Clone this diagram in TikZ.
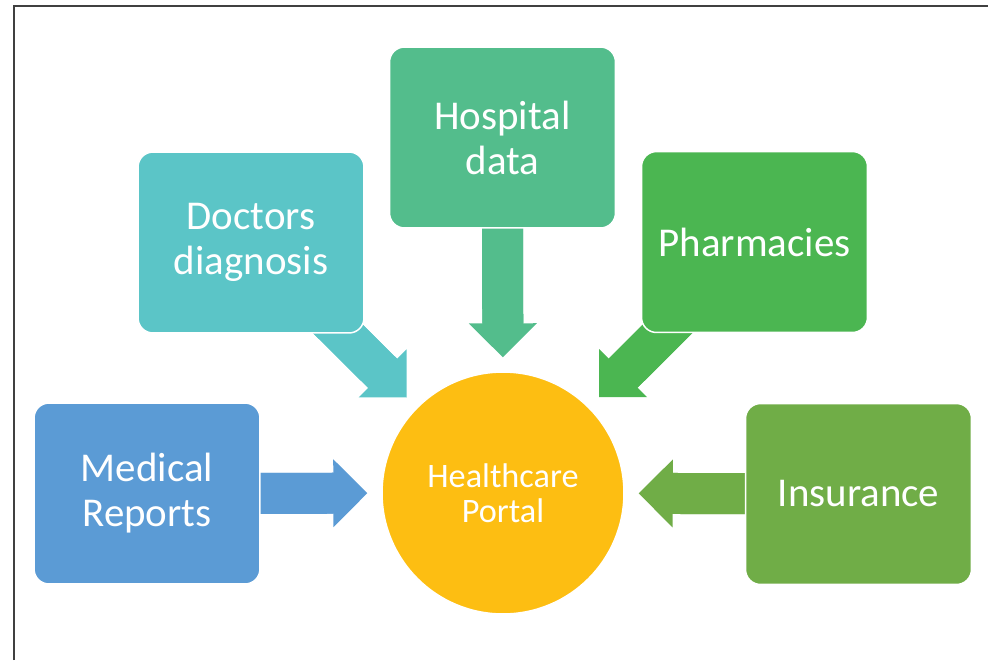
\documentclass[tikz,border=0pt]{standalone}
\usepackage{fontspec}
\setmainfont{Carlito}
\usetikzlibrary{arrows.meta, backgrounds}

\definecolor{medblue}{HTML}{5B9BD5}
\definecolor{docteal}{HTML}{5BC5C7}
\definecolor{hospgreen}{HTML}{53BD8C}
\definecolor{pharmgreen}{HTML}{4BB651}
\definecolor{insgreen}{HTML}{70AD47}
\definecolor{portalyellow}{HTML}{FDBE12}
\definecolor{framegray}{HTML}{404040}

\tikzset{
    source/.style={draw=white, line width=0.03cm, rounded corners=0.3cm, minimum width=4.52cm, minimum height=3.62cm, inner sep=0pt, text=white, align=center, font=\fontsize{23.3}{25.6}\selectfont},
    feed/.style={line width=0.82cm, shorten >=0.28cm, -{Triangle[width=1.36cm, length=0.68cm, line width=0pt]}, postaction={draw, -, shorten >=0.75cm}}
}

\begin{document}
\begin{tikzpicture}[x=0.02cm, y=-0.02cm]

    \useasboundingbox (0,0) rectangle (988,660);
    \draw[framegray, line width=0.04cm] (14,660) -- (14,6) -- (988,6);

    \node(med)[source, fill=medblue] at (147,493.5) {Medical\\Reports};
    \node(doc)[source, fill=docteal] at (251,242.5) {Doctors\\diagnosis};
    \node(hosp)[source, fill=hospgreen] at (502.5,137.5) {Hospital\\data};
    \node(pharm)[source, fill=pharmgreen] at (754.5,242) {Pharmacies};
    \node(ins)[source, fill=insgreen] at (858.5,494) {Insurance};

    \node(portal)[draw=white, line width=0.03cm, shape=circle, fill=portalyellow, minimum size=4.84cm, inner sep=0pt, text=white, align=center, font=\fontsize{19.5}{20}\selectfont] at (503,493) {Healthcare\\Portal};

    \begin{scope}[on background layer]
    \foreach \x/\c in {med/medblue, doc/docteal, hosp/hospgreen, pharm/pharmgreen, ins/insgreen}
    {
        \draw[feed, \c] (\x.center) -- (portal);
    }
    \end{scope}

\end{tikzpicture}
\end{document}
